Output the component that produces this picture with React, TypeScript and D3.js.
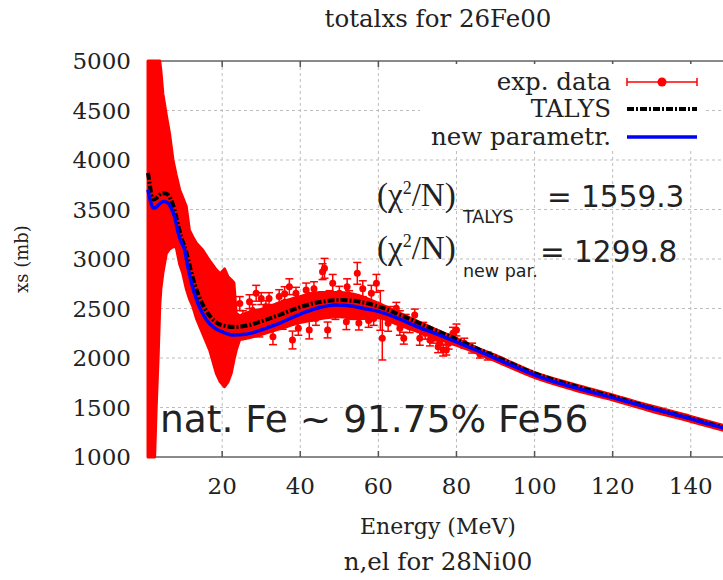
import React from 'react';
import * as d3 from 'd3';

// ---------- data ----------
const xTicks = [20, 40, 60, 80, 100, 120, 140];
const yTicks = [1000, 1500, 2000, 2500, 3000, 3500, 4000, 4500, 5000];

// dense experimental region: envelope of all data incl. error bars
const bandE = [1.0, 1.9, 2.7, 3.1, 3.6, 4.0, 4.3, 4.8, 5.7, 6.5, 7.4, 8.2, 9.1, 9.9, 10.8, 11.6, 12.5, 13.4, 15.0, 16.8, 18.5, 19.5, 20.6, 21.5, 22.3, 23.0, 23.6, 24.4, 26, 30, 35, 40, 45, 50, 55, 60, 65, 70, 75, 80, 85, 90, 100, 110, 120, 130, 140, 150];
const bandLo = [1000, 1000, 1000, 1505, 2013, 2518, 2700, 2855, 3057, 3100, 3124, 3124, 2950, 2855, 2700, 2600, 2518, 2400, 2249, 2080, 1845, 1760, 1710, 1760, 1845, 1980, 2080, 2180, 2190, 2230, 2290, 2350, 2390, 2410, 2390, 2400, 2330, 2260, 2190, 2120, 2045, 1962, 1795, 1672, 1568, 1455, 1352, 1245];
const bandHi = [5000, 5000, 5000, 5000, 5000, 5000, 4900, 4670, 4450, 4270, 4000, 3850, 3700, 3620, 3530, 3290, 3220, 3160, 3090, 2980, 2890, 2850, 2900, 2820, 2790, 2760, 2450, 2430, 2460, 2500, 2570, 2630, 2670, 2670, 2640, 2560, 2470, 2380, 2290, 2205, 2115, 2035, 1862, 1742, 1635, 1522, 1418, 1308];

// scattered experimental points
const expE = [23.5, 24.5, 25.3, 26.2, 27.0, 27.8, 28.7, 29.5, 30.0, 30.5, 31.2, 32.0, 32.5, 33.0, 34.6, 35.5, 36.0, 36.5, 37.2, 38.0, 38.9, 39.5, 40.0, 41.5, 42.3, 43.0, 43.5, 44.0, 45.7, 46.2, 47.0, 47.5, 48.3, 49.0, 50.0, 51.8, 52.0, 52.5, 53.5, 54.6, 55.0, 56.0, 56.5, 57.5, 58.2, 58.8, 59.5, 60.5, 61.0, 62.5, 63.0, 64.6, 65.5, 65.5, 66.5, 67.0, 68.0, 69.3, 70.6, 71.5, 72.0, 73.2, 74.0, 75.3, 75.7, 76.6, 77.4, 78.0, 79.1, 80.0, 82.0, 84.0, 86.0, 88.0];
const expXS = [2300, 2550, 2417, 2350, 2569, 2480, 2654, 2283, 2600, 2430, 2518, 2600, 2380, 2215, 2620, 2350, 2650, 2520, 2720, 2182, 2654, 2300, 2450, 2687, 2283, 2580, 2700, 2400, 2872, 2906, 2283, 2600, 2754, 2450, 2654, 2367, 2720, 2600, 2450, 2855, 2353, 2700, 2480, 2380, 2654, 2400, 2754, 2480, 2200, 2350, 2460, 2502, 2300, 2417, 2200, 2380, 2316, 2434, 2199, 2300, 2250, 2182, 2200, 2114, 2148, 2080, 2080, 2150, 2250, 2283, 2150, 2100, 2040, 2020];
const expErr = [80, 70, 60, 60, 70, 60, 80, 70, 60, 60, 60, 60, 60, 80, 70, 60, 70, 70, 80, 90, 60, 70, 60, 70, 90, 80, 70, 70, 80, 100, 80, 80, 90, 60, 70, 80, 80, 80, 60, 110, 70, 80, 60, 70, 80, 70, 90, 200, 220, 80, 60, 60, 70, 60, 60, 60, 60, 60, 70, 60, 60, 60, 50, 60, 50, 60, 50, 60, 60, 60, 50, 50, 40, 40];

// TALYS calculation
const talysE = [1.0, 1.4, 1.9, 2.3, 3.0, 4.0, 4.8, 5.7, 6.5, 7.3, 7.8, 8.6, 9.5, 10.8, 12.0, 13.0, 14.0, 16.0, 18.0, 20.0, 23.0, 26.0, 30.0, 35.0, 40.0, 45.0, 50.0, 55.0, 60.0, 65.0, 70.0, 75.0, 80.0, 85.0, 90.0, 100, 110, 120, 130, 140, 150];
const talysXS = [3870, 3770, 3640, 3600, 3610, 3650, 3665, 3660, 3630, 3560, 3495, 3360, 3225, 3070, 2880, 2740, 2630, 2470, 2375, 2330, 2313, 2325, 2370, 2440, 2515, 2565, 2585, 2570, 2520, 2445, 2360, 2275, 2190, 2100, 2015, 1845, 1720, 1610, 1495, 1390, 1280];

// new parametrisation
const newE = [1.0, 1.3, 1.8, 2.3, 3.0, 4.0, 5.0, 6.0, 7.0, 7.8, 8.7, 9.5, 10.4, 11.0, 12.0, 13.0, 14.0, 16.0, 18.0, 20.2, 23.0, 26.0, 28.7, 31.5, 34.6, 38.0, 41.5, 45.0, 49.0, 53.0, 57.0, 60.2, 65.0, 70.0, 75.0, 79.8, 85.0, 90.0, 95.0, 100.2, 105, 110, 115, 120, 125, 130, 135, 140, 145, 150];
const newXS = [3700, 3640, 3560, 3515, 3520, 3560, 3580, 3570, 3510, 3430, 3270, 3170, 3090, 2960, 2780, 2640, 2530, 2385, 2305, 2262, 2232, 2240, 2266, 2305, 2350, 2410, 2467, 2510, 2535, 2525, 2495, 2468, 2400, 2315, 2240, 2165, 2080, 1995, 1910, 1825, 1760, 1705, 1650, 1600, 1545, 1490, 1440, 1385, 1330, 1280];

const legendLabels = ['exp. data', 'TALYS', 'new parametr.'];

// ---------- component ----------
export default function App() {
  const x = d3.scaleLinear().domain([1, 150]).range([148, 729.8]);
  const y = d3.scaleLinear().domain([1000, 5000]).range([457, 61]);
  const plotL = 148, plotR = 729.8, plotT = 61, plotB = 457;

  const band = bandE.map((e, i) => ({ e, lo: bandLo[i], hi: bandHi[i] }));
  const bandLow = band.filter(d => d.e <= 24.4);
  const bandHigh = band.filter(d => d.e >= 24.4);
  const areaLin = d3.area<any>().x(d => x(d.e)).y0(d => y(d.lo)).y1(d => y(d.hi)).curve(d3.curveLinear);
  const areaSmooth = d3.area<any>().x(d => x(d.e)).y0(d => y(d.lo)).y1(d => y(d.hi)).curve(d3.curveMonotoneX);

  const talys = talysE.map((e, i) => [e, talysXS[i]] as [number, number]);
  const newp = newE.map((e, i) => [e, newXS[i]] as [number, number]);
  const line = d3.line<[number, number]>().x(d => x(d[0])).y(d => y(d[1])).curve(d3.curveMonotoneX);

  const exp = expE.map((e, i) => ({ e, v: expXS[i], err: expErr[i] }));

  const serif = '"DejaVu Serif", serif';
  const sans = '"DejaVu Sans", sans-serif';
  const red = '#ff0000';

  const legY = [82, 109, 137];
  const sx0 = 627, sx1 = 697;

  return (
    <svg width={723} height={580} style={{ position: 'absolute', left: 0, top: 0, background: '#fff' }}
      xmlns="http://www.w3.org/2000/svg">
      <defs>
        <clipPath id="clip">
          <rect x={plotL - 3} y={plotT - 5} width={plotR - plotL + 10} height={plotB - plotT + 9} />
        </clipPath>
      </defs>
      <rect x={0} y={0} width={723} height={580} fill="#fff" />

      {/* grid */}
      {xTicks.map(t => (
        <line key={'gx' + t} x1={x(t)} x2={x(t)} y1={plotT} y2={plotB} stroke="#bdbdbd" strokeWidth={1} strokeDasharray="3,3" />
      ))}
      {yTicks.filter(t => t > 1000 && t < 5000).map(t => (
        <line key={'gy' + t} x1={plotL} x2={plotR} y1={y(t)} y2={y(t)} stroke="#bdbdbd" strokeWidth={1} strokeDasharray="3,3" />
      ))}

      {/* border + ticks */}
      <line x1={plotL} x2={plotR} y1={plotT} y2={plotT} stroke="#8a8a8a" strokeWidth={2} />
      <line x1={plotL} x2={plotR} y1={plotB} y2={plotB} stroke="#8a8a8a" strokeWidth={2} />
      <line x1={plotL} x2={plotL} y1={plotT} y2={plotB} stroke="#8a8a8a" strokeWidth={2} />
      {xTicks.map(t => (
        <g key={'tx' + t}>
          <line x1={x(t)} x2={x(t)} y1={plotB} y2={plotB - 6} stroke="#555" strokeWidth={1.5} />
          <line x1={x(t)} x2={x(t)} y1={plotT} y2={plotT + 6} stroke="#555" strokeWidth={1.5} />
        </g>
      ))}
      {yTicks.map(t => (
        <line key={'ty' + t} x1={plotL} x2={plotL + 6} y1={y(t)} y2={y(t)} stroke="#555" strokeWidth={1.5} />
      ))}

      {/* data */}
      <g clipPath="url(#clip)">
        <path d={areaLin(bandLow) || ''} fill={red} stroke={red} strokeWidth={3} strokeLinejoin="round" />
        <path d={areaSmooth(bandHigh) || ''} fill={red} stroke={red} strokeWidth={1.5} strokeLinejoin="round" />
        {exp.map((p, i) => (
          <g key={'p' + i} stroke={red} strokeWidth={1.5}>
            <line x1={x(p.e)} x2={x(p.e)} y1={y(p.v - p.err)} y2={y(p.v + p.err)} />
            <line x1={x(p.e) - 4} x2={x(p.e) + 4} y1={y(p.v - p.err)} y2={y(p.v - p.err)} />
            <line x1={x(p.e) - 4} x2={x(p.e) + 4} y1={y(p.v + p.err)} y2={y(p.v + p.err)} />
            <circle cx={x(p.e)} cy={y(p.v)} r={3.5} fill={red} stroke="none" />
          </g>
        ))}
        <path d={line(talys) || ''} fill="none" stroke="#000" strokeWidth={4} strokeDasharray="7,2,2,2" />
        <path d={line(newp) || ''} fill="none" stroke="#0000ff" strokeWidth={3.5} />
      </g>

      {/* tick labels */}
      {yTicks.map(t => (
        <text key={'ly' + t} x={131} y={y(t) + 8} textAnchor="end" fontFamily={serif} fontSize={23} fill="#222">{t}</text>
      ))}
      {xTicks.map(t => (
        <text key={'lx' + t} x={x(t)} y={494} textAnchor="middle" fontFamily={serif} fontSize={23} fill="#222">{t}</text>
      ))}

      {/* titles */}
      <text x={438} y={27} textAnchor="middle" fontFamily={serif} fontSize={24.5} fill="#222">totalxs for 26Fe00</text>
      <text x={438} y={534} textAnchor="middle" fontFamily={serif} fontSize={22} fill="#222">Energy (MeV)</text>
      <text x={438} y={570} textAnchor="middle" fontFamily={serif} fontSize={24.5} fill="#222">n,el for 28Ni00</text>
      <text transform="translate(28,259) rotate(-90)" textAnchor="middle" fontFamily={serif} fontSize={18} fill="#222">xs (mb)</text>

      {/* legend */}
      <rect x={420} y={64} width={285} height={86} fill="#fff" />
      {legendLabels.map((l, i) => (
        <text key={'lg' + i} x={611} y={legY[i] + 8} textAnchor="end" fontFamily={serif} fontSize={24.5} fill="#222">{l}</text>
      ))}
      <g stroke={red} strokeWidth={1.5}>
        <line x1={sx0} x2={sx1} y1={legY[0]} y2={legY[0]} />
        <line x1={sx0} x2={sx0} y1={legY[0] - 4} y2={legY[0] + 4} />
        <line x1={sx1} x2={sx1} y1={legY[0] - 4} y2={legY[0] + 4} />
      </g>
      <circle cx={(sx0 + sx1) / 2} cy={legY[0]} r={4.5} fill={red} />
      <line x1={sx0} x2={sx1} y1={legY[1]} y2={legY[1]} stroke="#000" strokeWidth={4} strokeDasharray="7,2,2,2" />
      <line x1={sx0} x2={sx1} y1={legY[2]} y2={legY[2]} stroke="#0000ff" strokeWidth={3.5} />

      {/* chi-square annotations */}
      <text x={377} y={206} fontFamily='"Liberation Serif", serif' fontSize={33} fill="#222">
        (χ<tspan fontSize={18} dy={-12}>2</tspan><tspan dy={12}>/N)</tspan>
      </text>
      <text x={463} y={223} fontFamily={sans} fontSize={17.5} fill="#222">TALYS</text>
      <text x={547} y={207} fontFamily={sans} fontSize={29.5} fill="#222">= 1559.3</text>

      <text x={377} y={259} fontFamily='"Liberation Serif", serif' fontSize={33} fill="#222">
        (χ<tspan fontSize={18} dy={-12}>2</tspan><tspan dy={12}>/N)</tspan>
      </text>
      <text x={463} y={277} fontFamily={sans} fontSize={17.5} fill="#222">new par.</text>
      <text x={540} y={261.5} fontFamily={sans} fontSize={29.5} fill="#222">= 1299.8</text>

      <text x={160} y={432} fontFamily={sans} fontSize={37.5} fill="#222">nat. Fe ~ 91.75% Fe56</text>
    </svg>
  );
}
